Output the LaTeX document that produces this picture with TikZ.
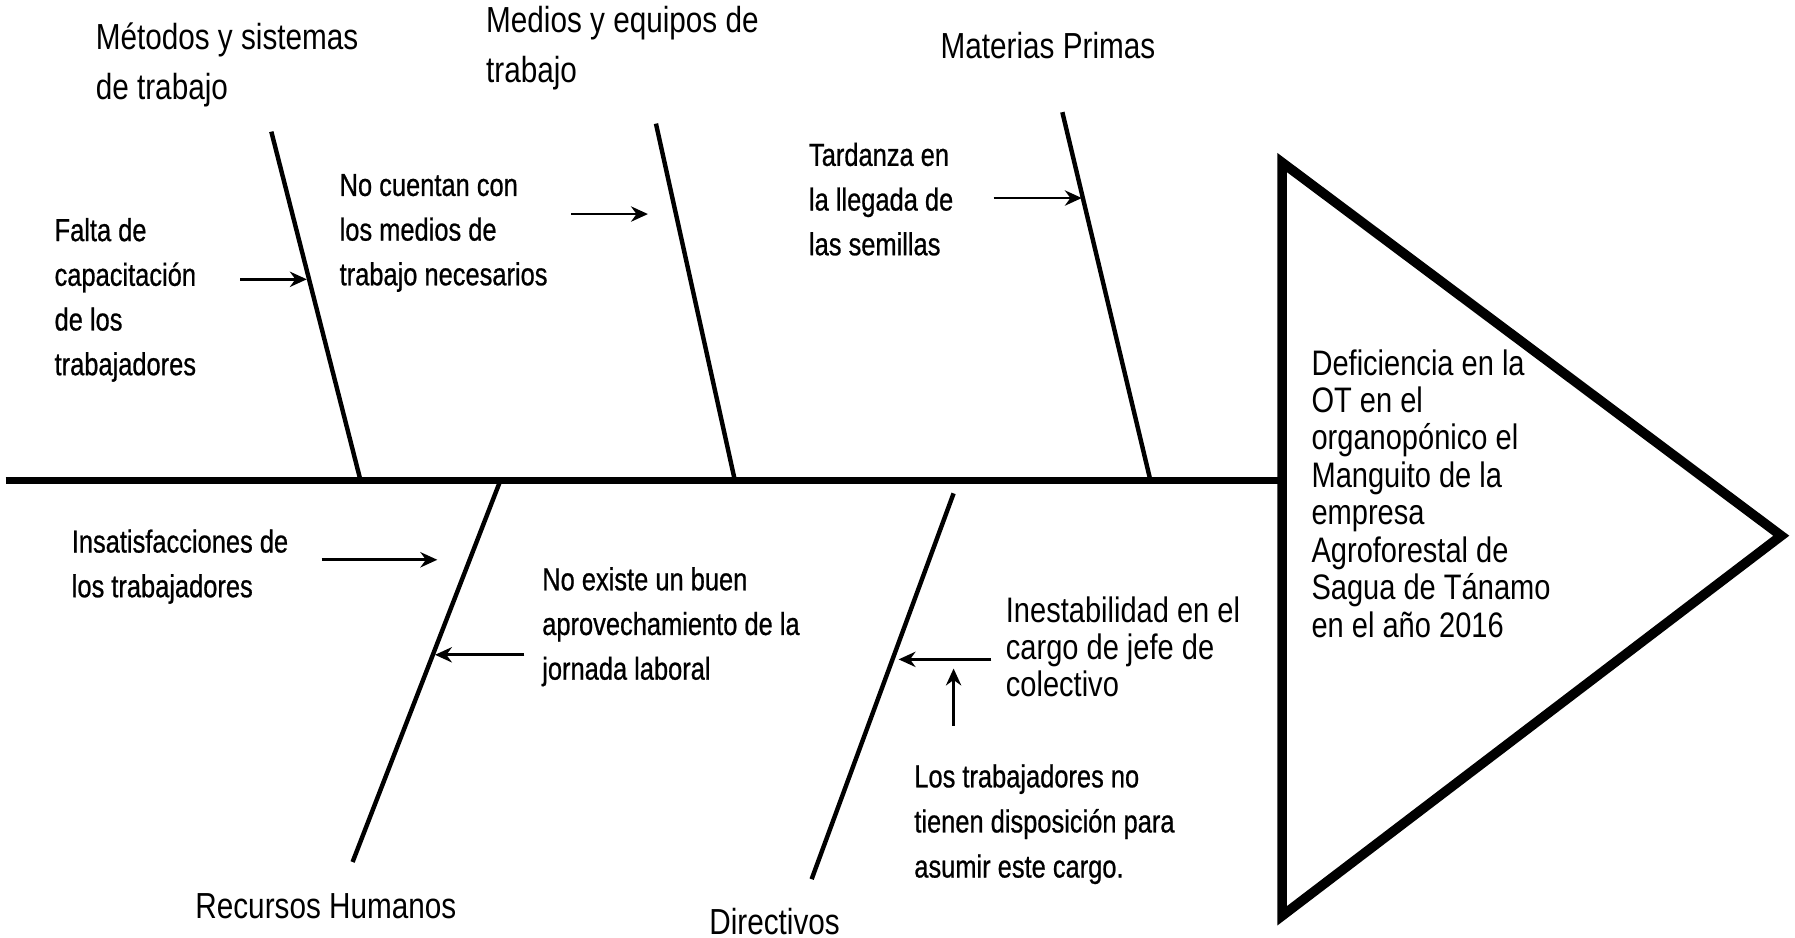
\documentclass[tikz,border=0pt]{standalone}
\usepackage{fontspec}
\setmainfont{Liberation Sans}[FakeStretch=0.82]
\newfontfamily\causefont{Liberation Sans}[FakeStretch=0.8, FakeBold=0.7]
\usetikzlibrary{arrows.meta}

\tikzset{
  spine/.style={line width=1.7pt},
  bone/.style={line width=1.1pt},
  cause/.style={-{Stealth[length=4.2pt,width=3.8pt]}, line width=0.65pt},
  catlabel/.style={anchor=west, align=left, inner sep=0pt, font=\fontsize{9}{12.5}\selectfont},
  subcause/.style={anchor=west, align=left, inner sep=0pt, font=\causefont\fontsize{7.9}{11.1}\selectfont},
  effect/.style={anchor=west, align=left, inner sep=0pt, font=\fontsize{8.8}{9.3}\selectfont}
}

\begin{document}
\begin{tikzpicture}[x=0.01cm, y=-0.01cm]
  \useasboundingbox (0,0) rectangle (1568,819);

  % spine and head
  \coordinate (tail) at (5,420);
  \coordinate (headL) at (1120,420);
  \draw[spine] (tail) -- (headL);
  \coordinate (htop) at (1120,142);
  \coordinate (htip) at (1556,468);
  \coordinate (hbot) at (1120,800);
  \draw[line width=2.4pt, line join=miter] (htop) -- (htip) -- (hbot) -- cycle;
  \node[effect] (efecto) at (1145,431) {Deficiencia en la\\OT en el\\organopónico el\\Manguito de la\\empresa\\Agroforestal de\\Sagua de Tánamo\\en el año 2016};

  % upper bones
  \coordinate (metodos-t) at (237,115);
  \coordinate (metodos-b) at (315,420);
  \draw[bone] (metodos-t) -- (metodos-b);
  \coordinate (medios-t) at (573,108);
  \coordinate (medios-b) at (642,420);
  \draw[bone] (medios-t) -- (medios-b);
  \coordinate (materias-t) at (928,98);
  \coordinate (materias-b) at (1005,420);
  \draw[bone] (materias-t) -- (materias-b);

  % lower bones
  \coordinate (recursos-t) at (437,420);
  \coordinate (recursos-b) at (308,753);
  \draw[bone] (recursos-t) -- (recursos-b);
  \coordinate (directivos-t) at (833,431);
  \coordinate (directivos-b) at (709,768);
  \draw[bone] (directivos-t) -- (directivos-b);

  % category labels
  \node[catlabel] (metodos) at (83,57) {Métodos y sistemas\\de trabajo};
  \node[catlabel] (medios) at (424,42) {Medios y equipos de\\trabajo};
  \node[catlabel] (materias) at (821,40) {Materias Primas};
  \node[catlabel] (recursos) at (170,792) {Recursos Humanos};
  \node[catlabel] (directivos) at (619,805) {Directivos};

  % causes
  \node[subcause] (falta) at (47,262) {Falta de\\capacitación\\de los\\trabajadores};
  \node[subcause] (cuentan) at (296,203.5) {No cuentan con\\los medios de\\trabajo necesarios};
  \node[subcause] (tardanza) at (706,174) {Tardanza en\\la llegada de\\las semillas};
  \node[subcause] (insatisf) at (62,495) {Insatisfacciones de\\los trabajadores};
  \node[subcause] (jornada) at (473,547.5) {No existe un buen\\aprovechamiento de la\\jornada laboral};
  \node[effect] (inestab) at (878,565) {Inestabilidad en el\\cargo de jefe de\\colectivo};
  \node[subcause, font=\causefont\fontsize{7.9}{11.2}\selectfont] (disposicion) at (798,720) {Los trabajadores no\\tienen disposición para\\asumir este cargo.};

  % cause arrows
  \coordinate (falta-a) at (210,244);
  \coordinate (falta-b) at (268,244);
  \draw[cause] (falta-a) -- (falta-b);
  \coordinate (cuentan-a) at (499,187);
  \coordinate (cuentan-b) at (566,187);
  \draw[cause] (cuentan-a) -- (cuentan-b);
  \coordinate (tardanza-a) at (868,173);
  \coordinate (tardanza-b) at (945,173);
  \draw[cause] (tardanza-a) -- (tardanza-b);
  \coordinate (insatisf-a) at (281,489);
  \coordinate (insatisf-b) at (382,489);
  \draw[cause] (insatisf-a) -- (insatisf-b);
  \coordinate (jornada-a) at (458,572);
  \coordinate (jornada-b) at (380,572);
  \draw[cause] (jornada-a) -- (jornada-b);
  \coordinate (inestab-a) at (866,576);
  \coordinate (inestab-b) at (785,576);
  \draw[cause] (inestab-a) -- (inestab-b);
  \coordinate (disposicion-a) at (833,634);
  \coordinate (disposicion-b) at (833,584);
  \draw[cause] (disposicion-a) -- (disposicion-b);
\end{tikzpicture}
\end{document}
